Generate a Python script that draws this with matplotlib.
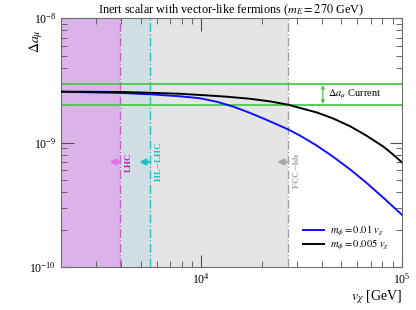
import matplotlib
matplotlib.use("Agg")
import matplotlib.pyplot as plt
from matplotlib.ticker import NullFormatter
import numpy as np

plt.rcParams['font.family'] = ['Liberation Serif', 'DejaVu Serif']
plt.rcParams['mathtext.fontset'] = 'stix'

# curves
v_blue = [2000, 3950, 5570, 7860, 9890, 11980, 14490, 17550, 21250, 27040,
          31140, 37720, 45480, 55260, 66420, 80990, 100000]
a_blue = [2.573e-9, 2.512e-9, 2.452e-9, 2.362e-9, 2.277e-9, 2.135e-9, 1.950e-9,
          1.735e-9, 1.524e-9, 1.284e-9, 1.140e-9, 9.48e-10, 7.72e-10, 6.10e-10,
          4.79e-10, 3.61e-10, 2.64e-10]
v_black = [2000, 3950, 5570, 7860, 9890, 13170, 17550, 22070, 27040, 37720,
           45480, 55260, 66420, 80990, 89470, 100000]
a_black = [2.573e-9, 2.559e-9, 2.521e-9, 2.475e-9, 2.420e-9, 2.350e-9, 2.256e-9,
           2.150e-9, 2.023e-9, 1.751e-9, 1.567e-9, 1.357e-9, 1.144e-9, 9.30e-10,
           8.16e-10, 6.97e-10]

# collider reach and g-2 band
v_lhc = 3950
v_hllhc = 5550
v_fcc = 27000
amu_band = [2.01e-9, 2.97e-9]

fig = plt.figure(figsize=(4.16, 3.10), dpi=100)
ax = fig.add_axes([0.146, 0.138, 0.82, 0.803])

ax.set_xscale('log')
ax.set_yscale('log')
ax.set_xlim(2000, 1e5)
ax.set_ylim(1e-10, 1e-8)
ax.xaxis.set_minor_formatter(NullFormatter())
ax.yaxis.set_minor_formatter(NullFormatter())

# shaded exclusion regions
ax.axvspan(2000, v_lhc, color='#dab4e8', zorder=0, lw=0)
ax.axvspan(v_lhc, v_hllhc, color='#d1dfe4', zorder=0, lw=0)
ax.axvspan(v_hllhc, v_fcc, color='#e5e5e5', zorder=0, lw=0)
ax.axvline(v_lhc, color='#c862c8', ls='-.', lw=1.0, zorder=1)
ax.axvline(v_hllhc, color='#22c4c4', ls='-.', lw=1.0, zorder=1)
ax.axvline(v_fcc, color='#a0a0a0', ls='-.', lw=1.0, zorder=1)

# g-2 band
for a in amu_band:
    ax.axhline(a, color='#4cc84c', lw=1.3, zorder=2)

ax.plot(v_blue, a_blue, color='#1010ff', lw=1.4, zorder=3, label=r'$m_\phi = 0.01\ v_\chi$')
ax.plot(v_black, a_black, color='black', lw=1.4, zorder=3, label=r'$m_\phi = 0.005\ v_\chi$')

# arrows + labels for collider lines
ya = 7.0e-10
for vx, col, tcol, txt, dy in [(v_lhc, '#e070e0', '#c020c0', 'LHC', 0),
                               (v_hllhc, '#20c0c0', '#20c0c0', r'HL$-$LHC', 0),
                               (v_fcc, '#a8a8a8', '#a8a8a8', r'FCC$-$hh', -6)]:
    ax.annotate('', xy=(vx / 1.13, ya), xytext=(vx / 1.01, ya),
                arrowprops=dict(arrowstyle='-|>', color=col, lw=1.8,
                                mutation_scale=8, shrinkA=0, shrinkB=0), zorder=4)
    ax.annotate(txt, xy=(vx, ya), xytext=(6, dy), textcoords='offset points',
                rotation=90, color=tcol, fontsize=6.5, ha='center', va='center',
                fontweight='bold')

# g-2 current marker
ax.annotate('', xy=(40400, amu_band[0] * 1.02), xytext=(40400, amu_band[1] / 1.02),
            arrowprops=dict(arrowstyle='<|-|>', color='#4cc84c', lw=0.9,
                            mutation_scale=5, shrinkA=0, shrinkB=0))
ax.text(43000, np.sqrt(amu_band[0] * amu_band[1]), r'$\Delta a_\mu$ Current',
        fontsize=7.5, va='center', ha='left')

ax.legend(loc='lower right', frameon=False, fontsize=7.6, handlelength=2.0,
          handletextpad=0.6, labelspacing=0.0, borderaxespad=0.3,
          bbox_to_anchor=(0.985, 0.03))

ax.set_title(r'Inert scalar with vector-like fermions ($m_E = 270$ GeV)',
             fontsize=8.8, pad=2)
ax.set_xlabel(r'$v_\chi$ [GeV]', fontsize=10, loc='right', labelpad=1)
ax.set_ylabel(r'$\Delta a_\mu$', fontsize=10)
ax.yaxis.set_label_coords(-0.045, 0.91)

for sp in ax.spines.values():
    sp.set_color('#707070')
ax.tick_params(which='both', direction='in', top=True, right=True,
               colors='#505050', labelcolor='black', labelsize=8.5)
ax.tick_params(which='major', length=9)
ax.tick_params(which='minor', length=4)

fig.savefig('out.png', dpi=100)
